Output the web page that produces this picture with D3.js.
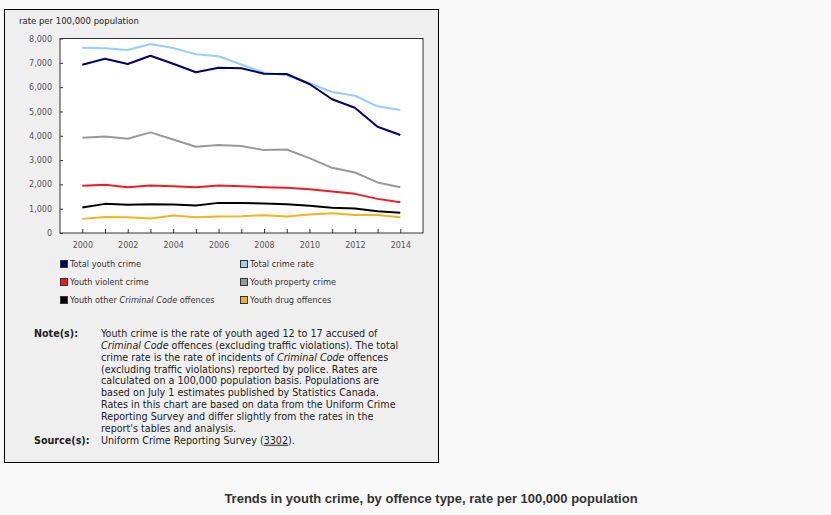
<!DOCTYPE html>
<html><head><meta charset="utf-8">
<script src="https://cdn.jsdelivr.net/npm/d3@7"></script>
<style>
html,body{margin:0;padding:0;background:#f9f9f9;}
svg{display:block;}
</style></head>
<body>
<script>
const years = [2000,2001,2002,2003,2004,2005,2006,2007,2008,2009,2010,2011,2012,2013,2014];
const xTickYears = [2000,2002,2004,2006,2008,2010,2012,2014];
const yTicks = [0,1000,2000,3000,4000,5000,6000,7000,8000];
const totalYouthCrime   = [6920,7170,6950,7290,6960,6610,6800,6780,6550,6540,6130,5500,5150,4370,4030];
const totalCrimeRate    = [7620,7600,7530,7770,7610,7350,7270,6930,6590,6490,6160,5800,5645,5210,5060];
const youthProperty     = [3916,3973,3875,4138,3848,3545,3615,3575,3409,3436,3080,2681,2490,2079,1886];
const youthViolent      = [1940,1981,1886,1955,1927,1886,1955,1927,1886,1858,1803,1707,1610,1404,1268];
const youthOther        = [1049,1198,1157,1186,1172,1132,1239,1239,1215,1186,1116,1034,1009,898,828];
const youthDrug         = [581,663,650,597,720,650,679,692,733,679,762,815,745,745,650];
const seriesNames = ["Total youth crime","Total crime rate","Youth violent crime","Youth property crime","Youth other Criminal Code offences","Youth drug offences"];
const seriesColors = ["#000066","#99ccff","#ee1c25","#999999","#000000","#f5b324"];
const seriesValues = [totalYouthCrime,totalCrimeRate,youthViolent,youthProperty,youthOther,youthDrug];
const drawOrder = [3,1,2,4,5,0];

const W=831,H=515;
const svg=d3.select("body").append("svg").attr("width",W).attr("height",H);
svg.append("rect").attr("x",0).attr("y",0).attr("width",W).attr("height",H).attr("fill","#f9f9f9");
svg.append("rect").attr("x",4.5).attr("y",9.5).attr("width",434).attr("height",453)
  .attr("fill","#efefef").attr("stroke","#000").attr("stroke-width",1);

const pl=60,pr=423,pt=38.5,pb=233;
const x=d3.scaleLinear().domain([2000,2014]).range([82.3,400.3]);
const y=d3.scaleLinear().domain([0,8000]).range([pb,pt]);

svg.append("rect").attr("x",pl).attr("y",pt).attr("width",pr-pl).attr("height",pb-pt)
  .attr("fill","#fff").attr("stroke","#333").attr("stroke-width",1);

const font="DejaVu Sans, Verdana, sans-serif";
svg.append("text").attr("x",19).attr("y",23.5).attr("font-family",font).attr("font-size",8.5).attr("fill","#222")
  .text("rate per 100,000 population");

// y axis
const yAxis=d3.axisLeft(y).tickValues(yTicks).tickFormat(d3.format(",")).tickSize(-3).tickPadding(8);
const gy=svg.append("g").attr("transform",`translate(${pl},0)`).call(yAxis);
gy.select(".domain").remove();
gy.selectAll("line").attr("stroke","#333");
gy.selectAll("text").attr("font-family",font).attr("font-size",8).attr("fill","#555");

// x axis
const xAxis=d3.axisBottom(x).tickValues(years).tickFormat(d=>xTickYears.includes(d)?String(d):"").tickSize(-4).tickPadding(9);
const gx=svg.append("g").attr("transform",`translate(0,${pb})`).call(xAxis);
gx.select(".domain").remove();
gx.selectAll("line").attr("stroke","#333");
gx.selectAll("text").attr("font-family",font).attr("font-size",8).attr("fill","#555");

const line=d3.line().x((d,i)=>x(years[i])).y(d=>y(d));
drawOrder.forEach(k=>{
  svg.append("path").datum(seriesValues[k]).attr("d",line).attr("fill","none")
    .attr("stroke",seriesColors[k]).attr("stroke-width",2).attr("stroke-linejoin","round");
});

// legend
const legX=[60,240], legY=[264,282,300];
seriesNames.forEach((n,i)=>{
  const lx=legX[i%2], ly=legY[Math.floor(i/2)];
  svg.append("rect").attr("x",lx+0.5).attr("y",ly-3.5).attr("width",7).attr("height",7)
    .attr("fill",seriesColors[i]).attr("stroke","#333").attr("stroke-width",1);
  const t=svg.append("text").attr("x",lx+10).attr("y",ly+3).attr("font-family",font).attr("font-size",8.2).attr("fill","#333");
  if(n.includes("Criminal Code")){
    t.append("tspan").text("Youth other ");
    t.append("tspan").attr("font-style","italic").text("Criminal Code");
    t.append("tspan").text(" offences");
  } else t.text(n);
});

// notes
const noteLines=[
  [["Youth crime is the rate of youth aged 12 to 17 accused of",0]],
  [["Criminal Code",1],[" offences (excluding traffic violations). The total",0]],
  [["crime rate is the rate of incidents of ",0],["Criminal Code",1],[" offences",0]],
  [["(excluding traffic violations) reported by police. Rates are",0]],
  [["calculated on a 100,000 population basis. Populations are",0]],
  [["based on July 1 estimates published by Statistics Canada.",0]],
  [["Rates in this chart are based on data from the Uniform Crime",0]],
  [["Reporting Survey and differ slightly from the rates in the",0]],
  [["report's tables and analysis.",0]]
];
const nfs=9.6;
svg.append("text").attr("x",34).attr("y",336.8).attr("font-family",font).attr("font-size",nfs).attr("font-weight","bold").attr("fill","#222").text("Note(s):");
noteLines.forEach((ln,i)=>{
  const t=svg.append("text").attr("x",101).attr("y",336.8+i*11.9).attr("font-family",font).attr("font-size",nfs).attr("fill","#222");
  ln.forEach(([s,it])=>{const sp=t.append("tspan").text(s); if(it) sp.attr("font-style","italic");});
});
svg.append("text").attr("x",34).attr("y",443.8).attr("font-family",font).attr("font-size",nfs).attr("font-weight","bold").attr("fill","#222").text("Source(s):");
const st=svg.append("text").attr("x",101).attr("y",443.8).attr("font-family",font).attr("font-size",nfs).attr("fill","#222");
st.append("tspan").text("Uniform Crime Reporting Survey (");
st.append("tspan").attr("text-decoration","underline").text("3302");
st.append("tspan").text(").");

svg.append("text").attr("x",431).attr("y",503).attr("text-anchor","middle")
  .attr("font-family","Liberation Sans, Arial, sans-serif").attr("font-weight","bold").attr("font-size",13).attr("fill","#333")
  .text("Trends in youth crime, by offence type, rate per 100,000 population");
</script>
</body></html>
